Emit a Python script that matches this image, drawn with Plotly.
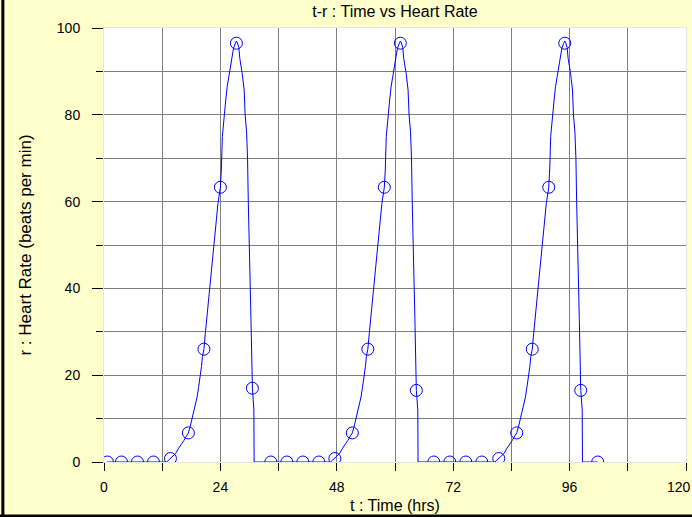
import plotly.graph_objects as go

# Continuous heart-rate trace (hours, beats per minute), three bursts
line_t = [
    0.7, 12.9, 13.3, 14.1, 14.8, 15.4, 16.0, 16.5, 17.0, 17.4, 17.8, 18.1, 18.5, 18.9, 19.2,
    19.5, 19.8, 20.1, 20.3, 20.6, 20.9, 21.2, 21.5, 21.8, 22.1, 22.5, 22.8, 23.2, 23.5,
    24.0, 24.2, 24.4, 24.7, 25.1, 25.4, 25.9, 26.3, 26.7, 27.1, 27.3, 27.5, 27.8, 28.0,
    28.2, 28.5, 28.9, 29.1, 29.4, 29.6, 29.75, 29.9, 30.1, 30.3, 30.6, 30.9, 30.95,
    46.7, 47.1, 47.9, 48.6, 49.2, 49.8, 50.3, 50.8, 51.2, 51.6, 51.9, 52.3, 52.7, 53.0,
    53.3, 53.6, 53.9, 54.1, 54.4, 54.7, 55.0, 55.3, 55.6, 55.9, 56.3, 56.6, 57.0, 57.3,
    57.8, 58.0, 58.2, 58.5, 58.9, 59.2, 59.7, 60.1, 60.5, 60.9, 61.1, 61.3, 61.6, 61.8,
    62.0, 62.3, 62.7, 62.9, 63.2, 63.4, 63.55, 63.7, 63.9, 64.1, 64.4, 64.7, 64.75,
    80.6, 81.0, 81.8, 82.5, 83.1, 83.7, 84.2, 84.7, 85.1, 85.5, 85.8, 86.2, 86.6, 86.9,
    87.2, 87.5, 87.8, 88.0, 88.3, 88.6, 88.9, 89.2, 89.5, 89.8, 90.2, 90.5, 90.9, 91.2,
    91.7, 91.9, 92.1, 92.4, 92.8, 93.1, 93.6, 94.0, 94.4, 94.8, 95.0, 95.2, 95.5, 95.7,
    95.9, 96.2, 96.6, 96.8, 97.1, 97.3, 97.45, 97.6, 97.8, 98.0, 98.3, 98.6, 98.65,
    101.8,
]
line_r = [
    0, 0, 0.4, 1.2, 2.0, 3.2, 4.1, 5.0, 6.0, 6.7, 8.3, 9.7, 12.0, 13.5, 15.0,
    17.2, 19.3, 22.0, 24.3, 26.0, 29.7, 33.2, 36.0, 38.9, 42.7, 47.3, 51.2, 55.8, 59.6,
    63.3, 67.5, 75.0, 79.6, 83.4, 86.5, 90.3, 93.0, 95.3, 96.5, 97.0, 96.6, 95.5, 93.0,
    91.0, 89.5, 85.7, 80.0, 76.0, 70.0, 60.0, 50.0, 40.0, 33.0, 17.0, 12.0, 0,
    0, 0.4, 1.2, 2.0, 3.2, 4.1, 5.0, 6.0, 6.7, 8.3, 9.7, 12.0, 13.5, 15.0,
    17.2, 19.3, 22.0, 24.3, 26.0, 29.7, 33.2, 36.0, 38.9, 42.7, 47.3, 51.2, 55.8, 59.6,
    63.3, 67.5, 75.0, 79.6, 83.4, 86.5, 90.3, 93.0, 95.3, 96.5, 97.0, 96.6, 95.5, 93.0,
    91.0, 89.5, 85.7, 80.0, 76.0, 70.0, 60.0, 50.0, 40.0, 33.0, 16.5, 12.0, 0,
    0, 0.4, 1.2, 2.0, 3.2, 4.1, 5.0, 6.0, 6.7, 8.3, 9.7, 12.0, 13.5, 15.0,
    17.2, 19.3, 22.0, 24.3, 26.0, 29.7, 33.2, 36.0, 38.9, 42.7, 47.3, 51.2, 55.8, 59.6,
    63.3, 67.5, 75.0, 79.6, 83.4, 86.5, 90.3, 93.0, 95.3, 96.5, 97.0, 96.6, 95.5, 93.0,
    91.0, 89.5, 85.7, 80.0, 76.0, 70.0, 60.0, 50.0, 40.0, 33.0, 16.5, 12.0, 0,
    0,
]

# Sampled readings shown as open circles
sample_t = [
    0.7, 3.6, 6.9, 10.2, 13.7, 17.4, 20.6, 24.0, 27.3, 30.6,
    34.4, 37.7, 41.0, 44.3, 47.6, 51.2, 54.4, 57.8, 61.1, 64.4,
    68.0, 71.3, 74.6, 77.9, 81.4, 85.1, 88.3, 91.7, 95.0, 98.3,
    101.8,
]
sample_r = [
    0, 0, 0, 0, 0.8, 6.7, 26.0, 63.3, 96.5, 17.0,
    0, 0, 0, 0, 0.8, 6.7, 26.0, 63.3, 96.5, 16.5,
    0, 0, 0, 0, 0.8, 6.7, 26.0, 63.3, 96.5, 16.5,
    0,
]

x_tick_vals = [0, 12, 24, 36, 48, 60, 72, 84, 96, 108, 120]
# the last label (120) sits at the page edge and is placed as an annotation
x_tick_text = ["0", "", "24", "", "48", "", "72", "", "96", "", ""]
x_end_value = 120
y_tick_vals = [0, 20, 40, 60, 80, 100]

FONT = "Arial, Liberation Sans, sans-serif"
BLUE = "#0000FF"
GRID = "#7F7F7F"

fig = go.Figure()
fig.add_trace(go.Scatter(
    x=line_t, y=line_r, mode="lines",
    line=dict(color=BLUE, width=1), hoverinfo="skip", showlegend=False,
))
fig.add_trace(go.Scatter(
    x=sample_t, y=sample_r, mode="markers",
    marker=dict(symbol="circle-open", size=12, color=BLUE, line=dict(width=1, color=BLUE)),
    showlegend=False,
))

fig.update_layout(
    width=692, height=517,
    margin=dict(l=104, r=6, t=28, b=55),
    paper_bgcolor="#FFFFCC",
    plot_bgcolor="#FFFFFF",
    font=dict(family=FONT, size=14, color="#000000"),
    title=dict(
        text="t-r : Time vs Heart Rate",
        x=0.5, xref="paper", xanchor="center",
        y=1.0, yref="container", yanchor="top", pad=dict(t=6),
        font=dict(family=FONT, size=16, color="#000000"),
    ),
    xaxis=dict(
        range=[0, 120], automargin=False,
        tickmode="array", tickvals=x_tick_vals, ticktext=x_tick_text,
        ticks="outside", ticklen=8, tickwidth=1, tickcolor="#000000",
        ticklabelstandoff=4,
        showgrid=True, gridcolor=GRID, gridwidth=1,
        zeroline=False,
        showline=True, linecolor="#E4E4EC", linewidth=1, mirror=True,
        title=dict(text="t : Time (hrs)", font=dict(family=FONT, size=16), standoff=6),
    ),
    yaxis=dict(
        range=[0, 100], automargin=False,
        tickmode="array", tickvals=y_tick_vals,
        ticks="outside", ticklen=11, tickwidth=1, tickcolor="#000000",
        ticklabelstandoff=9,
        showgrid=True, gridcolor=GRID, gridwidth=1,
        minor=dict(dtick=10, ticks="outside", ticklen=7, tickcolor="#000000",
                   showgrid=True, gridcolor=GRID, gridwidth=1),
        zeroline=False,
        showline=True, linecolor="#E4E4EC", linewidth=1, mirror=True,
        title=dict(text="r : Heart Rate (beats per min)", font=dict(family=FONT, size=17), standoff=20),
    ),
    annotations=[
        dict(text=str(x_end_value), x=x_end_value, xref="x", y=0, yref="paper",
             xanchor="right", yanchor="top", xshift=7, yshift=-15, showarrow=False,
             font=dict(family=FONT, size=14, color="#000000")),
    ],
    shapes=[
        # frame edges along the left and bottom of the page
        dict(type="line", xref="paper", yref="paper", x0=-0.1738, x1=-0.1738, y0=-0.13, y1=1.07,
             line=dict(color="#000000", width=3)),
        dict(type="line", xref="paper", yref="paper", x0=-0.18, x1=1.02, y0=-0.1245, y1=-0.1245,
             line=dict(color="#000000", width=3)),
    ],
)

fig.write_html("out.html")
